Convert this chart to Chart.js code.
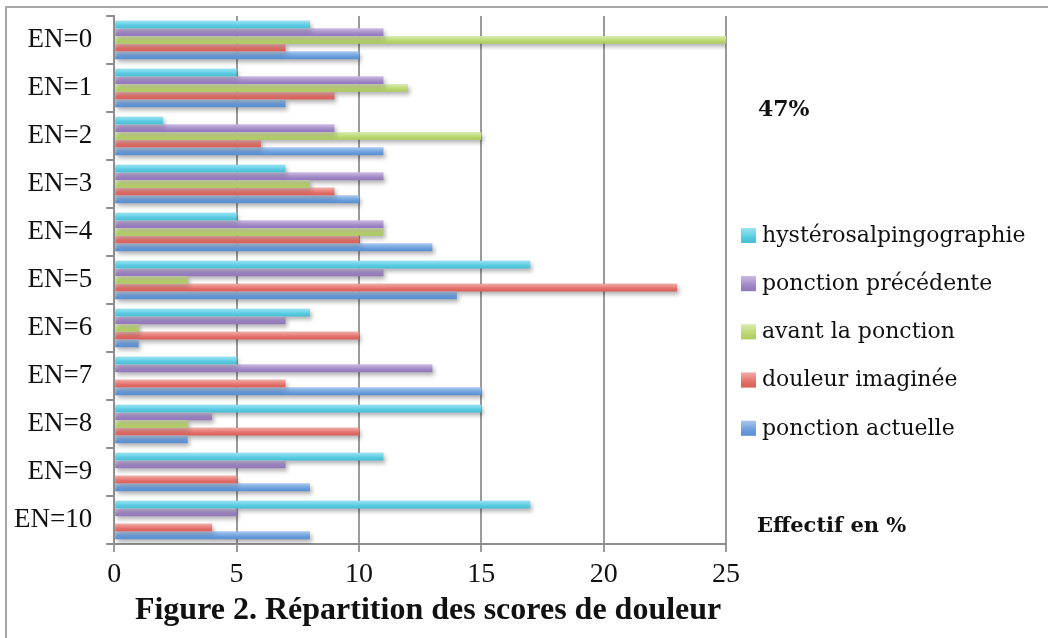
<!DOCTYPE html>
<html>
<head>
<meta charset="utf-8">
<script src="https://cdn.jsdelivr.net/npm/chart.js@4.4.1/dist/chart.umd.min.js"></script>
<style>
  html,body{margin:0;padding:0;background:#fff;}
  #wrap{width:1048px;height:638px;position:relative;}
</style>
</head>
<body>
<div id="wrap"><canvas id="chart" width="1048" height="638"></canvas></div>
<script>
const categories=["EN=0","EN=1","EN=2","EN=3","EN=4","EN=5","EN=6","EN=7","EN=8","EN=9","EN=10"];
const hysterosalpingographie=[8,5,2,7,5,17,8,5,15,11,17];
const ponctionPrecedente=[11,11,9,11,11,11,7,13,4,7,5];
const avantPonction=[25,12,15,8,11,3,1,0,3,0,0];
const douleurImaginee=[7,9,6,9,10,23,10,7,10,5,4];
const ponctionActuelle=[10,7,11,10,13,14,1,15,3,8,8];
const xTicks=[0,5,10,15,20,25];

const serif="'Liberation Serif', 'Times New Roman', serif";
const serif2="'DejaVu Serif', serif";

function sheen(c,x,y,w,h){
  const g=c.createLinearGradient(0,y,0,y+h);
  g.addColorStop(0,"rgba(255,255,255,0.45)");
  g.addColorStop(0.55,"rgba(255,255,255,0.1)");
  g.addColorStop(1,"rgba(0,0,0,0.04)");
  c.fillStyle=g;
  c.fillRect(x,y,w,h);
}

// shadow under bars, light sheen on top, legend, side notes and frame
const decor={
  id:"decor",
  beforeDatasetDraw(chart){
    const c=chart.ctx;
    c.save();
    c.shadowColor="rgba(0,0,0,0.3)";
    c.shadowBlur=4;
    c.shadowOffsetX=2;
    c.shadowOffsetY=3;
  },
  afterDatasetDraw(chart){
    chart.ctx.restore();
  },
  afterDatasetsDraw(chart){
    const c=chart.ctx;
    chart.data.datasets.forEach((ds,i)=>{
      chart.getDatasetMeta(i).data.forEach(bar=>{
        const p=bar.getProps(["x","y","base","height"],true);
        if(p.x-p.base<0.5) return;
        sheen(c,p.base,p.y-p.height/2,p.x-p.base,p.height);
      });
    });
  },
  afterDraw(chart){
    const c=chart.ctx;
    c.save();
    c.strokeStyle="#a8a8a8";
    c.lineWidth=2;
    c.beginPath();
    c.moveTo(6,638);c.lineTo(6,7);c.lineTo(1048,7);
    c.stroke();

    // legend
    c.textBaseline="middle";
    c.font="22px "+serif2;
    chart.data.datasets.forEach((ds,i)=>{
      const y=236+i*48.2;
      c.fillStyle=ds.backgroundColor;
      c.fillRect(741,y-8,15,15);
      sheen(c,741,y-8,15,15);
      c.fillStyle="#111";
      c.fillText(ds.label,762,y);
    });

    c.font="bold 22px "+serif2;
    c.fillText("47%",758,110);
    c.font="bold 21px "+serif2;
    c.fillText("Effectif en %",757,527);
    c.restore();
  }
};

const mk=(label,data,color)=>({label,data,backgroundColor:color,borderWidth:0});

new Chart(document.getElementById("chart"),{
  type:"bar",
  data:{
    labels:categories,
    datasets:[
      mk("hystérosalpingographie",hysterosalpingographie,"#4ccae2"),
      mk("ponction précédente",ponctionPrecedente,"#9b80c6"),
      mk("avant la ponction",avantPonction,"#b8d766"),
      mk("douleur imaginée",douleurImaginee,"#e4665f"),
      mk("ponction actuelle",ponctionActuelle,"#6098de")
    ]
  },
  options:{
    indexAxis:"y",
    responsive:false,
    animation:false,
    datasets:{bar:{categoryPercentage:0.8,barPercentage:1}},
    layout:{padding:{left:0,top:16,right:322,bottom:8}},
    scales:{
      x:{
        min:0,max:25,
        afterBuildTicks(ax){ax.ticks=xTicks.map(v=>({value:v}));},
        grid:{color:"#9a9a9a",lineWidth:2,tickLength:8},
        border:{color:"#8e8e8e",width:2},
        ticks:{color:"#111",font:{family:serif,size:28},padding:6},
        title:{display:true,text:"\u2002Figure 2. Répartition des scores de douleur",color:"#111",
          font:{family:serif,size:32,weight:"bold"},padding:{top:-6,bottom:0}}
      },
      y:{
        afterFit(s){s.paddingTop=0;s.paddingBottom=0;},
        grid:{offset:true,drawOnChartArea:false,color:"#8e8e8e",lineWidth:2,tickLength:8},
        border:{color:"#8e8e8e",width:2},
        ticks:{color:"#111",font:{family:serif,size:27},padding:14}
      }
    },
    plugins:{
      legend:{display:false},
      tooltip:{enabled:false}
    }
  },
  plugins:[decor]
});
</script>
</body>
</html>
